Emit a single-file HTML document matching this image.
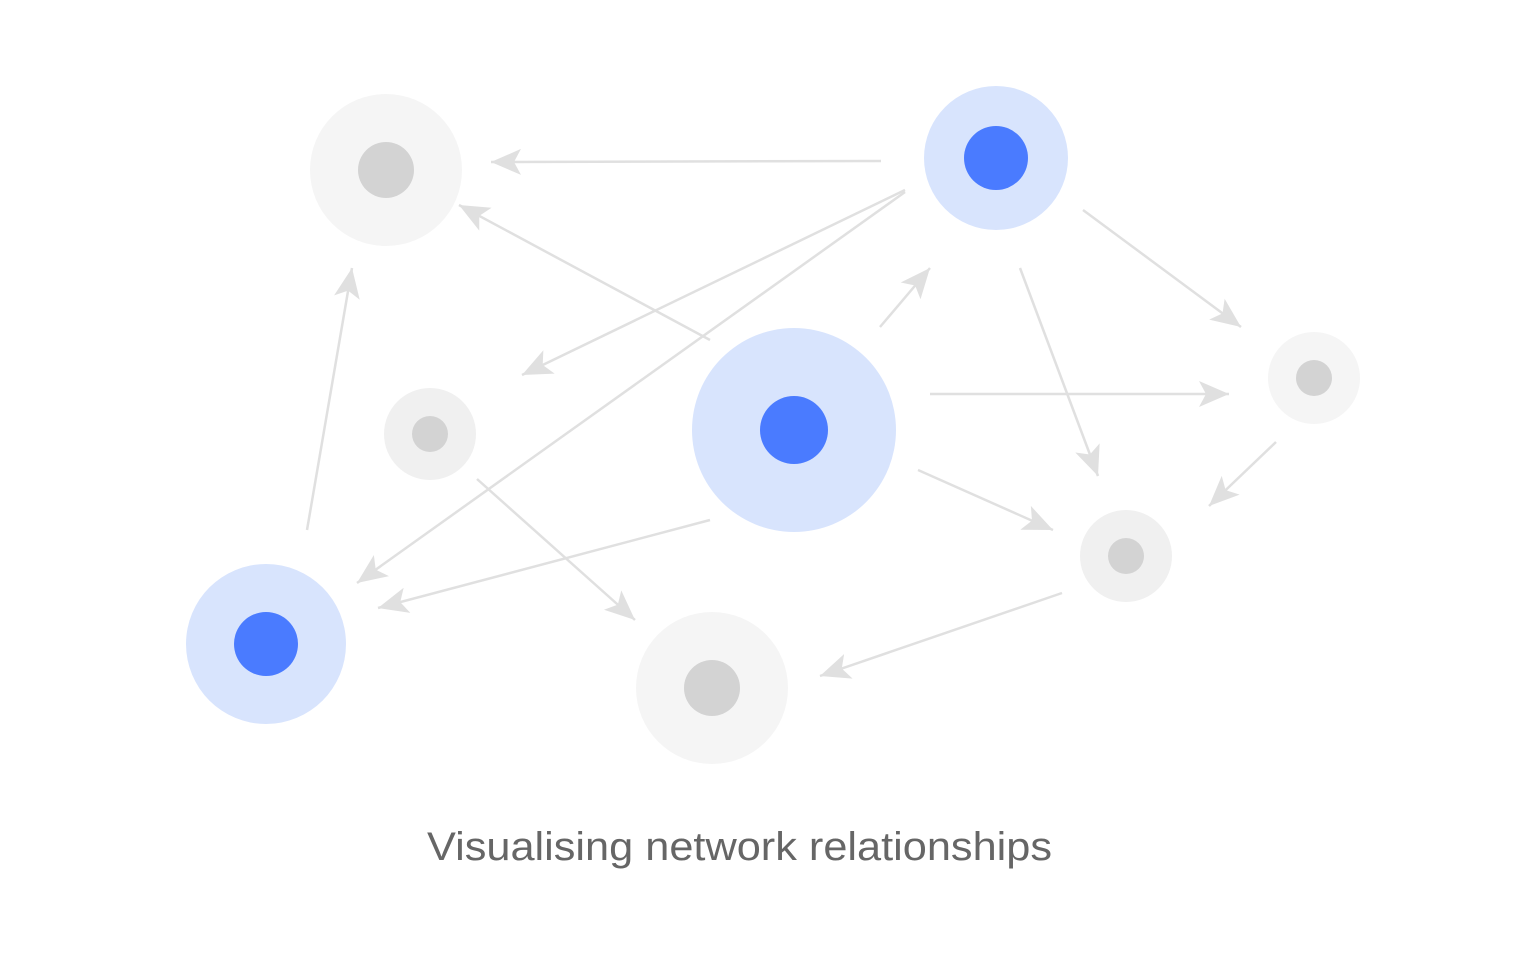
<!DOCTYPE html>
<html><head><meta charset="utf-8"><style>
html,body{margin:0;padding:0;background:#fff;width:1540px;height:960px;overflow:hidden}
</style></head><body>
<svg width="1540" height="960" viewBox="0 0 1540 960" xmlns="http://www.w3.org/2000/svg">
<defs>
<marker id="a" markerUnits="userSpaceOnUse" markerWidth="40" markerHeight="40" refX="30" refY="20" orient="auto" viewBox="0 0 40 40">
<path d="M30,20 L0,7 L7,20 L0,33 Z" fill="#e0e0e0"/>
</marker>
</defs>
<g fill="#f5f5f5">
<circle cx="386" cy="170" r="76"/>
<circle cx="712" cy="688" r="76"/>
<circle cx="1314" cy="378" r="46"/>
</g>
<g fill="#f0f0f0">
<circle cx="430" cy="434" r="46"/>
<circle cx="1126" cy="556" r="46"/>
</g>
<g fill="#d8e4fd">
<circle cx="996" cy="158" r="72"/>
<circle cx="794" cy="430" r="102"/>
<circle cx="266" cy="644" r="80"/>
</g>
<g fill="#d3d3d3">
<circle cx="386" cy="170" r="28"/>
<circle cx="712" cy="688" r="28"/>
<circle cx="1314" cy="378" r="18"/>
<circle cx="430" cy="434" r="18"/>
<circle cx="1126" cy="556" r="18"/>
</g>
<g fill="#4a7bff">
<circle cx="996" cy="158" r="32"/>
<circle cx="794" cy="430" r="34"/>
<circle cx="266" cy="644" r="32"/>
</g>
<g stroke="#e0e0e0" stroke-width="2.5" fill="none" marker-end="url(#a)">
<line x1="881" y1="161" x2="491" y2="162"/>
<line x1="710" y1="340" x2="459" y2="205"/>
<line x1="905" y1="190" x2="522" y2="375"/>
<line x1="905" y1="192" x2="357" y2="583"/>
<line x1="880" y1="327" x2="930" y2="268"/>
<line x1="1083" y1="210" x2="1241" y2="327"/>
<line x1="1020" y1="268" x2="1098" y2="476"/>
<line x1="930" y1="394" x2="1229" y2="394"/>
<line x1="1276" y1="442" x2="1209" y2="506"/>
<line x1="918" y1="470" x2="1053" y2="530"/>
<line x1="710" y1="520" x2="378" y2="608"/>
<line x1="477" y1="479" x2="635" y2="620"/>
<line x1="307" y1="530" x2="352" y2="268"/>
<line x1="1062" y1="593" x2="820" y2="676"/>
</g>
<text x="427" y="860" font-family="Liberation Sans, sans-serif" font-size="40" fill="#666" textLength="625" lengthAdjust="spacingAndGlyphs">Visualising network relationships</text>
</svg>
</body></html>
